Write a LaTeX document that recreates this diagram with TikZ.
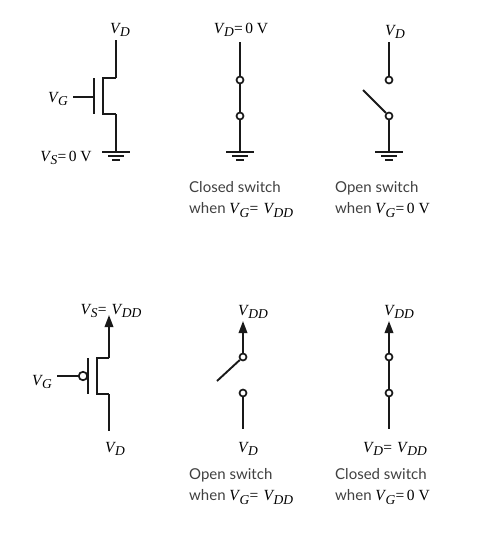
\documentclass[tikz,border=0pt]{standalone}
\usepackage{fontspec}
\setmainfont{Liberation Serif}
\newfontfamily\captionfont{Lato}
\usetikzlibrary{arrows.meta,positioning}
\newcommand{\vsym}[1]{\textit{V}\kern-0.8pt\raisebox{-3.5pt}{\fontsize{13.5}{13.5}\selectfont\itshape #1}}
\newcommand{\eqsign}{\kern0.3pt=\kern2.5pt}
\newcommand{\capvolt}[1]{\textcolor{black}{\rmfamily\fontsize{15.5}{15.5}\selectfont #1}}
\begin{document}
\begin{tikzpicture}[x=1pt,y=-1pt,
 wire/.style={line width=1.9pt,draw=black!90},
 gateline/.style={line width=2.9pt,draw=black!90,line cap=butt},
 rail/.style={-{Triangle[length=12pt,width=8.5pt]},line width=1.9pt,draw=black!90},
 contact/.style={circle,draw=black!90,fill=white,line width=1.7pt,minimum size=7pt,inner sep=0pt},
 bubble/.style={circle,draw=black!90,fill=white,line width=1.7pt,minimum size=8.5pt,inner sep=0pt},
 volt/.style={font=\fontsize{15.5}{15.5}\selectfont,inner sep=0pt},
 caption/.style={font=\captionfont\fontsize{15}{21.5}\selectfont,text=black!75,align=left,anchor=west,inner sep=0pt}
]
\useasboundingbox (0,0) rectangle (477,542);

% top row, n-channel
\coordinate (nd) at (116,40);
\coordinate (nda) at (116,78);
\coordinate (ndb) at (103,78);
\coordinate (nsb) at (103,114);
\coordinate (nsa) at (116,114);
\coordinate (ng) at (116,151);
\coordinate (ngl) at (73,97);
\coordinate (ngr) at (94,97);
\coordinate (npa) at (94,78);
\coordinate (npb) at (94,114);
\draw[wire] (nd) -- (nda);
\draw[gateline] (nda) -- (ndb) -- (nsb) -- (nsa);
\draw[wire] (nsa) -- (ng);
\draw[wire] (ngl) -- (ngr);
\draw[gateline] (npa) -- (npb);
\node[volt] (nvd) at (120,30) {\vsym{D}};
\node[volt] (nvg) at (58,99) {\vsym{G}};
\node[volt] (nvs) at (66,158) {\vsym{S}\eqsign 0 V};

% closed switch to ground
\coordinate (ad) at (240,42);
\node[contact] (a1) at (240,80) {};
\node[contact] (a2) at (240,116) {};
\coordinate (ag) at (240,152);
\draw[wire] (ad) -- (a1);
\draw[wire] (a1) -- (a2);
\draw[wire] (a2) -- (ag);
\node[volt] (avd) at (241,30) {\vsym{D}\eqsign 0 V};
\node[caption] (acap) at (189,199.5) {Closed switch\\when \capvolt{\vsym{G}\eqsign\,\vsym{DD}}};

% open switch to ground
\coordinate (bd) at (389,42);
\node[contact] (b1) at (389,80) {};
\node[contact] (b2) at (389,116) {};
\coordinate (bg) at (389,152);
\coordinate (barm) at (363,90);
\draw[wire] (bd) -- (b1);
\draw[wire] (barm) -- (b2);
\draw[wire] (b2) -- (bg);
\node[volt] (bvd) at (395,32) {\vsym{D}};
\node[caption] (bcap) at (335,199.5) {Open switch\\when \capvolt{\vsym{G}\eqsign 0 V}};

% ground symbols
\foreach \gnd/\gx in {ng/116,ag/240,bg/389}{
 \draw[line width=1.6pt,draw=black!90] (\gx-14,152) -- (\gx+14,152);
 \draw[line width=1.6pt,draw=black!90] (\gx-8,156) -- (\gx+8,156);
 \draw[line width=1.6pt,draw=black!90] (\gx-4,160) -- (\gx+4,160);
}

% bottom row, p-channel
\coordinate (ps) at (109,315);
\coordinate (psa) at (109,358);
\coordinate (psb) at (97,358);
\coordinate (pdb) at (97,394);
\coordinate (pda) at (109,394);
\coordinate (pd) at (109,431);
\coordinate (pgl) at (57,376);
\coordinate (ppa) at (88,358);
\coordinate (ppb) at (88,394);
\node[bubble] (pbub) at (83,376) {};
\draw[rail] (psa) -- (ps);
\draw[gateline] (psa) -- (psb) -- (pdb) -- (pda);
\draw[wire] (pda) -- (pd);
\draw[wire] (pgl) -- (pbub);
\draw[gateline] (ppa) -- (ppb);
\node[volt] (pvs) at (111,311) {\vsym{S}\eqsign\,\vsym{DD}};
\node[volt] (pvg) at (42,382) {\vsym{G}};
\node[volt] (pvd) at (115,449) {\vsym{D}};

% open switch to supply
\coordinate (cs) at (243,321);
\node[contact] (c1) at (243,357) {};
\node[contact] (c2) at (243,393) {};
\coordinate (cd) at (243,429);
\coordinate (carm) at (217,381);
\draw[rail] (c1) -- (cs);
\draw[wire] (carm) -- (c1);
\draw[wire] (c2) -- (cd);
\node[volt] (cvs) at (253,312) {\vsym{DD}};
\node[volt] (cvd) at (248,449) {\vsym{D}};
\node[caption] (ccap) at (189,486.5) {Open switch\\when \capvolt{\vsym{G}\eqsign\,\vsym{DD}}};

% closed switch to supply
\coordinate (ds) at (389,321);
\node[contact] (d1) at (389,357) {};
\node[contact] (d2) at (389,393) {};
\coordinate (dd) at (389,429);
\draw[rail] (d1) -- (ds);
\draw[wire] (d1) -- (d2);
\draw[wire] (d2) -- (dd);
\node[volt] (dvs) at (399,312) {\vsym{DD}};
\node[volt] (dvd) at (395,449) {\vsym{D}\eqsign\,\vsym{DD}};
\node[caption] (dcap) at (335,486.5) {Closed switch\\when \capvolt{\vsym{G}\eqsign 0 V}};
\end{tikzpicture}
\end{document}
